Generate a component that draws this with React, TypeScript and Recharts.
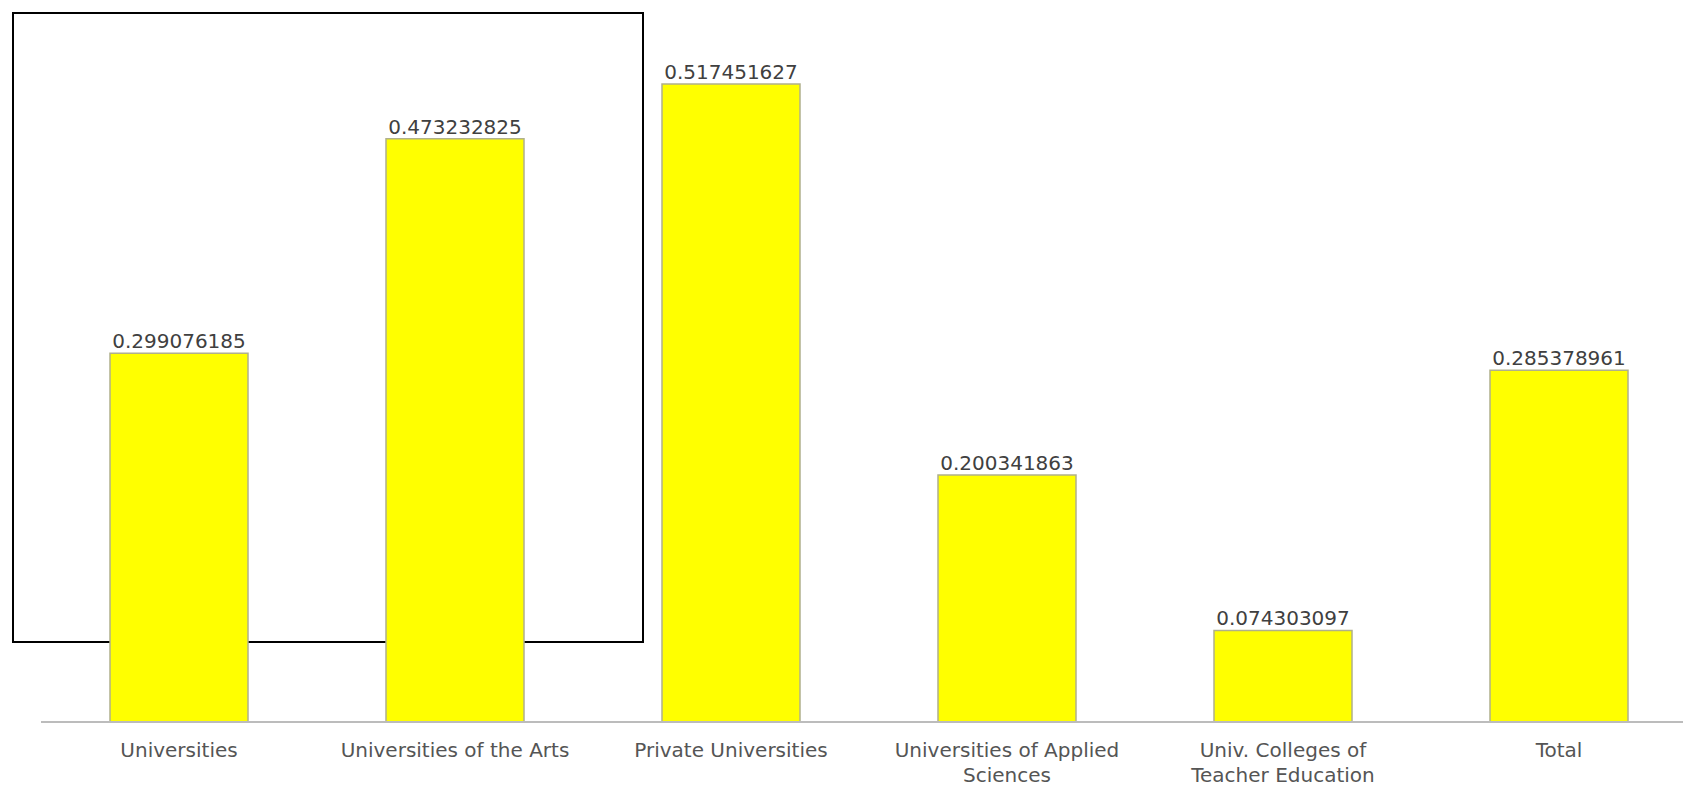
import React from 'react';
import { BarChart, Bar, XAxis, YAxis, LabelList } from 'recharts';

const categories = [
  'Universities',
  'Universities of the Arts',
  'Private Universities',
  'Universities of Applied\nSciences',
  'Univ. Colleges of\nTeacher Education',
  'Total',
];
const values = [0.299076185, 0.473232825, 0.517451627, 0.200341863, 0.074303097, 0.285378961];
const valueLabels = ['0.299076185', '0.473232825', '0.517451627', '0.200341863', '0.074303097', '0.285378961'];

const data = categories.map((c, i) => ({ name: c, value: values[i], label: valueLabels[i] }));

const FONT = '"DejaVu Sans", Arial, sans-serif';

const Tick = (props: any) => {
  const { x, y, payload } = props;
  const lines = String(payload.value).split('\n');
  return (
    <text x={x} y={y} textAnchor="middle" fill="#555555" fontSize={20} fontFamily={FONT}>
      {lines.map((l, i) => (
        <tspan key={i} x={x} dy={i === 0 ? 26.5 : 25.5}>
          {l}
        </tspan>
      ))}
    </text>
  );
};

export default function App() {
  return (
    <div style={{ position: 'absolute', left: 0, top: 0, width: 1683, height: 787, overflow: 'hidden', background: '#ffffff' }}>
      <div
        style={{
          position: 'absolute',
          left: 12,
          top: 12,
          width: 632,
          height: 631,
          border: '2px solid #000000',
          boxSizing: 'border-box',
        }}
      />
      <div style={{ position: 'absolute', left: 0, top: 0 }}>
        <BarChart
          width={1697}
          height={787}
          data={data}
          margin={{ top: 44, right: 0, bottom: 0, left: 41 }}
          barCategoryGap="25%"
        >
          <YAxis hide domain={[0, 0.55]} />
          <XAxis
            dataKey="name"
            interval={0}
            tickLine={false}
            axisLine={{ stroke: '#bcbcbc', strokeWidth: 2 }}
            height={65}
            tick={<Tick />}
          />
          <Bar dataKey="value" fill="#ffff00" stroke="#b0b08c" strokeWidth={1.5} isAnimationActive={false}>
            <LabelList dataKey="label" position="top" offset={5} fill="#404040" fontSize={20} fontFamily={FONT} />
          </Bar>
        </BarChart>
      </div>
    </div>
  );
}
